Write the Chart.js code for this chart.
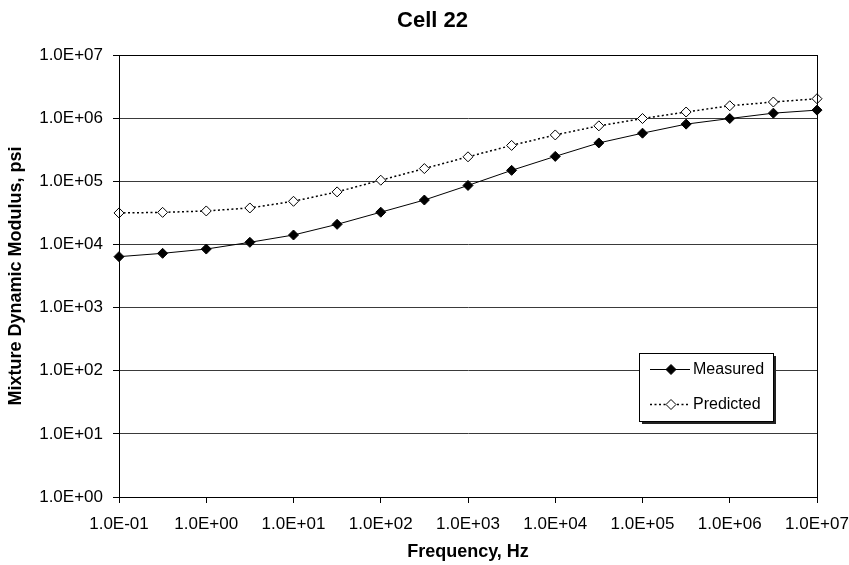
<!DOCTYPE html>
<html>
<head>
<meta charset="utf-8">
<script src="https://cdn.jsdelivr.net/npm/chart.js@4.4.1/dist/chart.umd.min.js"></script>
<style>
  html, body { margin: 0; padding: 0; background: #fff; overflow: hidden; }
  #wrap { position: relative; width: 863px; height: 565px; }
</style>
</head>
<body>
<div id="wrap"><canvas id="cellChart"></canvas></div>
<script>
// Frequencias (Hz) e modulo dinamico (psi)
const frequencies = [0.1, 0.316, 1, 3.16, 10, 31.6, 100, 316, 1000, 3160, 1e4, 3.16e4, 1e5, 3.16e5, 1e6, 3.16e6, 1e7];
const measured = [6400, 7230, 8450, 10800, 14100, 20800, 32400, 50500, 85900, 149000, 248000, 405000, 578000, 804000, 986000, 1200000, 1340000];
const predicted = [31500, 32200, 33900, 37800, 48200, 67900, 104000, 159000, 244000, 370000, 542000, 755000, 986000, 1250000, 1570000, 1800000, 2030000];

// Ticks do eixo X e do eixo Y
const xTickValues = [1e-1, 1e0, 1e1, 1e2, 1e3, 1e4, 1e5, 1e6, 1e7];
const xTickLabels = ['1.0E-01', '1.0E+00', '1.0E+01', '1.0E+02', '1.0E+03', '1.0E+04', '1.0E+05', '1.0E+06', '1.0E+07'];
const yTickValues = [1e0, 1e1, 1e2, 1e3, 1e4, 1e5, 1e6, 1e7];
const yTickLabels = ['1.0E+00', '1.0E+01', '1.0E+02', '1.0E+03', '1.0E+04', '1.0E+05', '1.0E+06', '1.0E+07'];

const FONT = '"Liberation Sans", Arial, sans-serif';

// Moldura em volta da area do grafico
const frameBox = {
    id: 'frameBox',
    afterDatasetsDraw(chart) {
        const { ctx, chartArea: a } = chart;
        ctx.save();
        ctx.strokeStyle = '#000';
        ctx.lineWidth = 1;
        ctx.strokeRect(Math.round(a.left) + 0.5, Math.round(a.top) + 0.5, Math.round(a.right - a.left), Math.round(a.bottom - a.top));
        ctx.restore();
    }
};

// Desenha o marcador em forma de losango
function diamond(ctx, x, y, r, fill) {
    ctx.beginPath();
    ctx.moveTo(x, y - r);
    ctx.lineTo(x + r, y);
    ctx.lineTo(x, y + r);
    ctx.lineTo(x - r, y);
    ctx.closePath();
    ctx.fillStyle = fill;
    ctx.fill();
    ctx.strokeStyle = '#000';
    ctx.lineWidth = 1;
    ctx.stroke();
}

// Legenda com caixa e sombra dentro da area do grafico
const boxLegend = {
    id: 'boxLegend',
    afterDraw(chart) {
        const { ctx, chartArea: a } = chart;
        const left = a.right - 178, top = a.top + 298, w = 134, h = 68;
        ctx.save();
        ctx.fillStyle = '#222';
        ctx.fillRect(left + 3, top + 3, w, h);
        ctx.fillStyle = '#fff';
        ctx.fillRect(left, top, w, h);
        ctx.strokeStyle = '#000';
        ctx.lineWidth = 1;
        ctx.strokeRect(left + 0.5, top + 0.5, w, h);

        chart.data.datasets.forEach((ds, i) => {
            const y = top + 16 + i * 35;
            ctx.strokeStyle = '#000';
            ctx.lineWidth = ds.borderWidth;
            ctx.setLineDash(ds.borderDash || []);
            ctx.beginPath();
            ctx.moveTo(left + 11, y + 0.5);
            ctx.lineTo(left + 51, y + 0.5);
            ctx.stroke();
            ctx.setLineDash([]);
            diamond(ctx, left + 32, y + 0.5, 5, ds.pointBackgroundColor);
            ctx.fillStyle = '#000';
            ctx.font = '16px ' + FONT;
            ctx.textBaseline = 'middle';
            ctx.textAlign = 'left';
            ctx.fillText(ds.label, left + 54, y + 1);
        });
        ctx.restore();
    }
};

const ctx = document.getElementById('cellChart').getContext('2d');
new Chart(ctx, {
    type: 'line',
    data: {
        datasets: [
            {
                label: 'Measured',
                data: frequencies.map((f, i) => ({ x: f, y: measured[i] })),
                borderColor: '#000',
                borderWidth: 1,
                pointStyle: 'rectRot',
                pointRadius: 5,
                pointBackgroundColor: '#000',
                pointBorderColor: '#000',
                pointBorderWidth: 1,
                tension: 0,
                clip: false
            },
            {
                label: 'Predicted',
                data: frequencies.map((f, i) => ({ x: f, y: predicted[i] })),
                borderColor: '#000',
                borderWidth: 1.5,
                borderDash: [2, 2.5],
                pointStyle: 'rectRot',
                pointRadius: 5,
                pointBackgroundColor: '#fff',
                pointBorderColor: '#000',
                pointBorderWidth: 1,
                tension: 0,
                clip: false
            }
        ]
    },
    options: {
        responsive: true,
        maintainAspectRatio: false,
        animation: false,
        layout: { padding: { left: 2, right: 0, top: 0, bottom: 0 } },
        plugins: {
            legend: { display: false },
            tooltip: { enabled: false },
            title: {
                display: true,
                text: 'Cell 22',
                color: '#000',
                font: { family: FONT, size: 22, weight: 'bold' },
                padding: { top: 8, bottom: 20.6 }
            }
        },
        scales: {
            x: {
                type: 'logarithmic',
                min: 0.1,
                max: 1e7,
                afterBuildTicks: (axis) => { axis.ticks = xTickValues.map(v => ({ value: v })); },
                afterFit: (axis) => { axis.height = 68; },
                ticks: {
                    autoSkip: false,
                    maxRotation: 0,
                    padding: 11,
                    color: '#000',
                    font: { family: FONT, size: 17 },
                    callback: (value, index) => xTickLabels[index]
                },
                grid: { drawOnChartArea: false, tickLength: 6, tickColor: '#000' },
                border: { display: true, color: '#000', width: 1 },
                title: {
                    display: true,
                    text: 'Frequency, Hz',
                    color: '#000',
                    font: { family: FONT, size: 18, weight: 'bold' },
                    padding: { top: 0, bottom: 2 }
                }
            },
            y: {
                type: 'logarithmic',
                min: 1,
                max: 1e7,
                afterBuildTicks: (axis) => { axis.ticks = yTickValues.map(v => ({ value: v })); },
                afterFit: (axis) => { axis.width = 117; },
                ticks: {
                    autoSkip: false,
                    padding: 10,
                    color: '#000',
                    font: { family: FONT, size: 17 },
                    callback: (value, index) => yTickLabels[index]
                },
                grid: { color: '#3a3a3a', lineWidth: 1, tickLength: 6, tickColor: '#000' },
                border: { display: true, color: '#000', width: 1 },
                title: {
                    display: true,
                    text: 'Mixture Dynamic Modulus, psi',
                    color: '#000',
                    font: { family: FONT, size: 18, weight: 'bold' },
                    padding: { top: 3, bottom: 0 }
                }
            },
            // eixo vazio so para reservar a margem direita
            yRight: {
                type: 'linear',
                position: 'right',
                display: true,
                ticks: { display: false },
                grid: { display: false },
                border: { display: false },
                afterFit: (axis) => { axis.width = 46; }
            }
        }
    },
    plugins: [frameBox, boxLegend]
});
</script>
</body>
</html>
